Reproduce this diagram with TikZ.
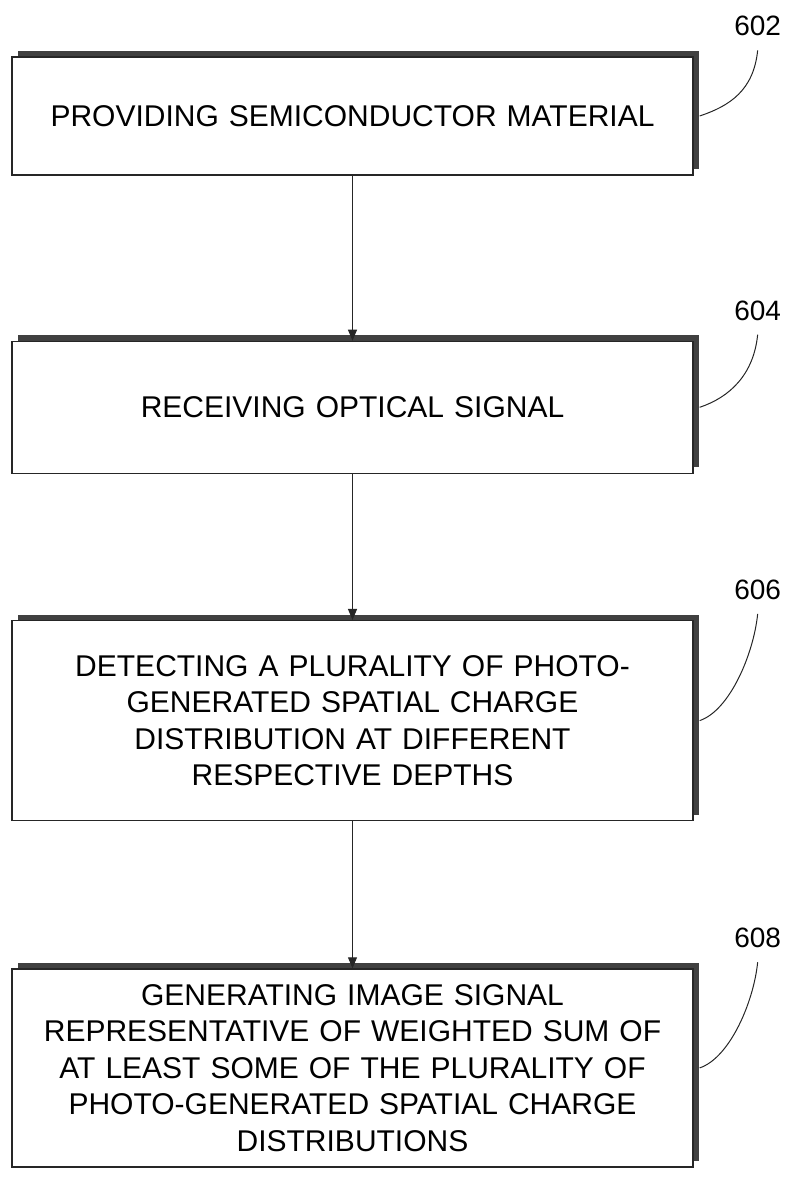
\documentclass[tikz,border=0pt]{standalone}
\usepackage{fontspec}
\setmainfont{Liberation Sans}
\usetikzlibrary{arrows.meta,positioning,shadows,calc}

\begin{document}
\begin{tikzpicture}[x=1pt,y=1pt,node distance=146pt,
  every node/.style={font=\fontsize{30}{36.5}\selectfont},
  stepbox/.style={draw=black!85,line width=1.3pt,fill=white,minimum width=681pt,
    text width=670pt,align=center,inner sep=0pt,
    drop shadow={shadow xshift=6pt,shadow yshift=6pt,fill=black!75,opacity=1}},
  refnum/.style={inner sep=2pt,font=\fontsize{28}{28}\selectfont},
  ar/.style={-{Triangle[length=11pt,width=9pt]},line width=1.1pt,black!85},
  lead/.style={line width=1pt,black!85}]
\useasboundingbox (0,0) rectangle (793,-1189);

% process steps
\node[stepbox,minimum height=118pt] (prov) at (352.5,-116) {PROVIDING SEMICONDUCTOR MATERIAL};
\node[stepbox,minimum height=132pt,below=165pt of prov] (recv) {RECEIVING OPTICAL SIGNAL};
\node[stepbox,minimum height=200pt,below=of recv] (detect) {DETECTING A PLURALITY OF PHOTO-\\
  GENERATED SPATIAL CHARGE\\ DISTRIBUTION AT DIFFERENT\\ RESPECTIVE DEPTHS};
\node[stepbox,minimum height=198pt,below=147pt of detect] (gen) {GENERATING IMAGE SIGNAL\\
  REPRESENTATIVE OF WEIGHTED SUM OF\\ AT LEAST SOME OF THE PLURALITY OF\\
  PHOTO-GENERATED SPATIAL CHARGE\\ DISTRIBUTIONS};

% reference numerals with their leaders
\foreach \n/\num in {prov/602, recv/604, detect/606, gen/608}{
  \node[refnum,anchor=south] (n\num) at ($(\n.north east)+(64,18)$) {\num};
  \draw[lead] ([xshift=6pt]\n.east) .. controls +(30,10) and +(-4,-40) .. ([yshift=-12pt]n\num.south);
}

\draw[ar] (prov)--(recv); \draw[ar] (recv)--(detect); \draw[ar] (detect)--(gen);
\end{tikzpicture}
\end{document}
